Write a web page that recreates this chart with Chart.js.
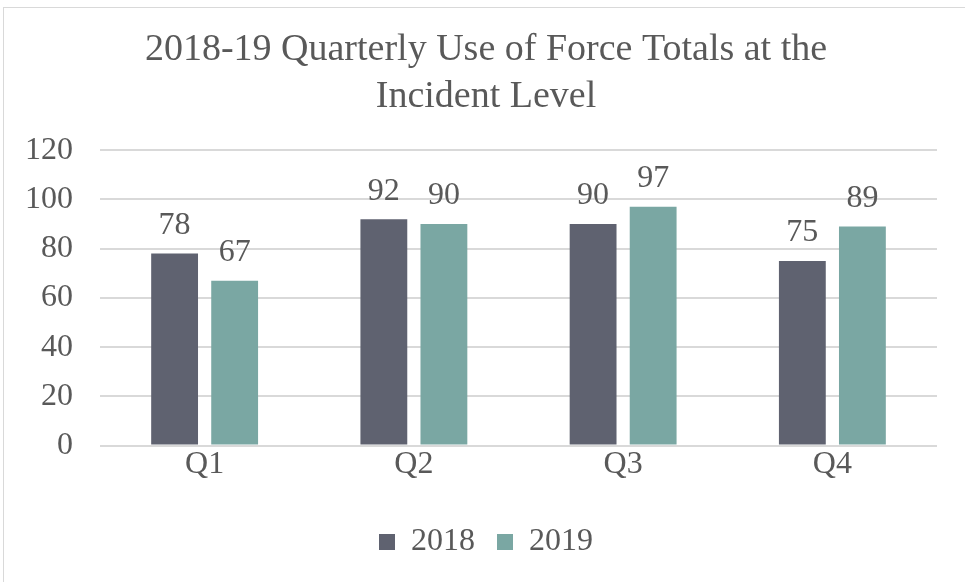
<!DOCTYPE html>
<html>
<head>
<meta charset="utf-8">
<script src="https://cdn.jsdelivr.net/npm/chart.js@4"></script>
<style>
  html, body { margin: 0; padding: 0; background: #ffffff; overflow: hidden; }
  #wrap { position: relative; width: 965px; height: 582px; overflow: hidden; }
  #frame { position: absolute; left: 3px; top: 7px; right: -2px; bottom: -2px; border: 1px solid #d9d9d9; box-sizing: border-box; }
  canvas { position: absolute; left: 0; top: 0; }
</style>
</head>
<body>
<div id="wrap">
  <div id="frame"></div>
  <canvas id="c" width="972" height="582"></canvas>
</div>
<script>
const categories = ["Q1", "Q2", "Q3", "Q4"];
const series2018 = [78, 92, 90, 75];
const series2019 = [67, 90, 97, 89];
const yTicks = [0, 20, 40, 60, 80, 100, 120];
const titleLines = ["2018-19 Quarterly Use of Force Totals at the", "Incident Level"];

const FONT = "'Liberation Serif', 'Times New Roman', serif";
const TEXT = "#595959";

const valueLabels = {
  id: "valueLabels",
  afterDatasetsDraw(chart) {
    const ctx = chart.ctx;
    ctx.save();
    ctx.font = "32px " + FONT;
    ctx.fillStyle = TEXT;
    ctx.textAlign = "center";
    ctx.textBaseline = "middle";
    chart.data.datasets.forEach((ds, i) => {
      chart.getDatasetMeta(i).data.forEach((bar, j) => {
        ctx.fillText(String(ds.data[j]), bar.x, bar.y - 28);
      });
    });
    ctx.restore();
  }
};

new Chart(document.getElementById("c"), {
  type: "bar",
  data: {
    labels: categories,
    datasets: [
      { label: "2018", data: series2018, backgroundColor: "#5f6270", barPercentage: 0.78, categoryPercentage: 0.574 },
      { label: "2019", data: series2019, backgroundColor: "#7aa7a3", barPercentage: 0.78, categoryPercentage: 0.574 }
    ]
  },
  options: {
    responsive: false,
    animation: false,
    devicePixelRatio: 1,
    layout: { padding: { left: 0, right: 0, top: 0, bottom: 14 } },
    plugins: {
      title: {
        display: true,
        text: titleLines,
        color: TEXT,
        font: { family: FONT, size: 38, weight: "normal", lineHeight: 1.24 },
        padding: { top: 26, bottom: 30 }
      },
      legend: {
        position: "bottom",
        labels: {
          color: TEXT,
          font: { family: FONT, size: 32 },
          boxWidth: 16, boxHeight: 16,
          padding: 22
        }
      },
      tooltip: { enabled: false }
    },
    scales: {
      x: {
        grid: { display: false, drawTicks: false },
        border: { display: false },
        afterFit(scale) { scale.height += 20; },
        ticks: { color: TEXT, font: { family: FONT, size: 32 }, padding: 0 }
      },
      y: {
        min: 0, max: 120,
        afterBuildTicks(scale) { scale.ticks = yTicks.map(v => ({ value: v })); },
        afterFit(scale) { scale.width = 100; },
        grid: { color: "#d9d9d9", lineWidth: 2, drawTicks: false },
        border: { display: false },
        ticks: { color: TEXT, font: { family: FONT, size: 32 }, padding: 27 }
      },
      yRight: {
        position: "right",
        grid: { display: false, drawTicks: false },
        border: { display: false },
        ticks: { display: false },
        afterFit(scale) { scale.width = 35; }
      }
    }
  },
  plugins: [valueLabels]
});
</script>
</body>
</html>
